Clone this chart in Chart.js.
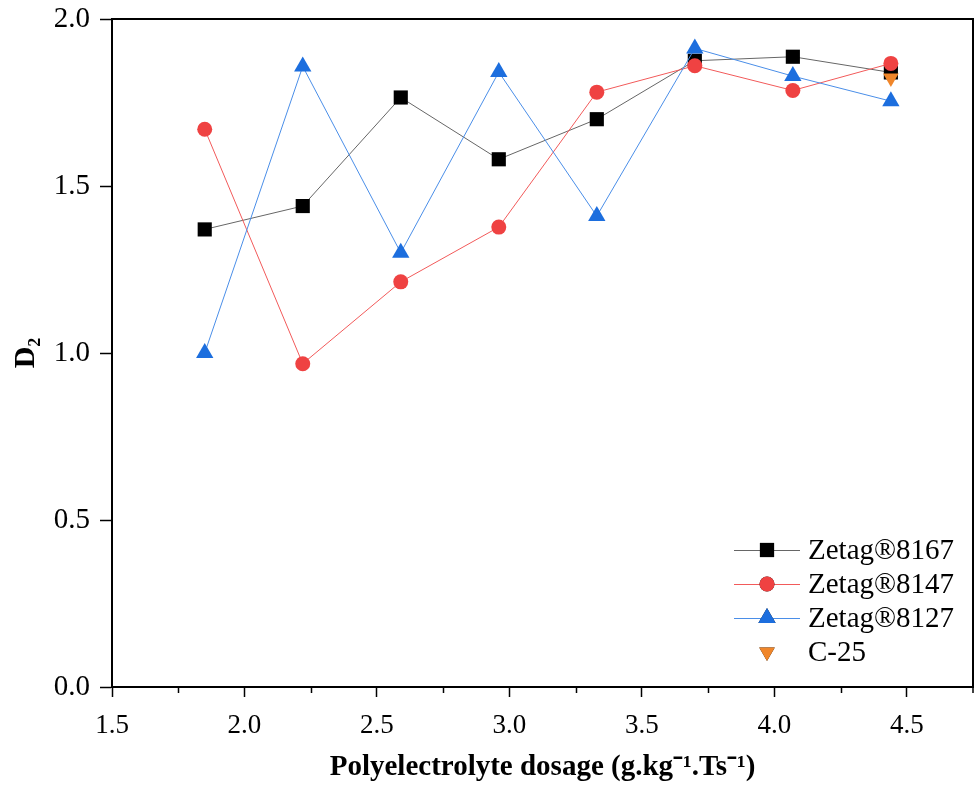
<!DOCTYPE html>
<html>
<head>
<meta charset="utf-8">
<script src="https://cdn.jsdelivr.net/npm/chart.js@4"></script>
<style>
  html, body { margin: 0; padding: 0; background: #fff; }
  #wrap { width: 975px; height: 789px; }
</style>
</head>
<body>
<div id="wrap"><canvas id="myChart" width="975" height="789"></canvas></div>
<script>
const dosage = [1.85, 2.22, 2.59, 2.96, 3.33, 3.70, 4.07, 4.44];
const z8167 = [1.37, 1.44, 1.765, 1.58, 1.70, 1.875, 1.887, 1.84];
const z8147 = [1.67, 0.968, 1.213, 1.377, 1.781, 1.86, 1.786, 1.867];
const z8127 = [1.0, 1.858, 1.30, 1.841, 1.41, 1.912, 1.829, 1.754];
const c25X = [4.44];
const c25Y = [1.823];
const xTicks = [1.5, 2.0, 2.5, 3.0, 3.5, 4.0, 4.5];
const xMinor = [1.75, 2.25, 2.75, 3.25, 3.75, 4.25, 4.75];
const yTicks = [0.0, 0.5, 1.0, 1.5, 2.0];

const serif = "'Liberation Serif', 'Times New Roman', serif";

function pts(xs, ys) {
  return xs.map((x, i) => ({ x: x, y: ys[i] }));
}

// frame, minor ticks, and legend with line samples
const extras = {
  id: "extras",
  afterDraw(chart) {
    const ctx = chart.ctx;
    const a = chart.chartArea;
    const xs = chart.scales.x;
    ctx.save();
    ctx.strokeStyle = "#000";
    ctx.lineWidth = 2;
    ctx.strokeRect(a.left, a.top, a.right - a.left, a.bottom - a.top);
    ctx.lineWidth = 1.5;
    xMinor.forEach(v => {
      const px = Math.min(Math.round(xs.getPixelForValue(v)) + 0.5, a.right);
      ctx.beginPath();
      ctx.moveTo(px, a.bottom);
      ctx.lineTo(px, a.bottom + 6);
      ctx.stroke();
    });

    // legend
    let y = 550;
    chart.data.datasets.forEach(ds => {
      const mx = 767;
      if (ds.showLine !== false) {
        ctx.strokeStyle = ds.borderColor;
        ctx.lineWidth = 1;
        ctx.beginPath();
        ctx.moveTo(734, y + 0.5);
        ctx.lineTo(800, y + 0.5);
        ctx.stroke();
      }
      Chart.helpers.drawPoint(ctx, {
        pointStyle: ds.pointStyle,
        rotation: ds.pointRotation || 0,
        radius: ds.pointRadius,
        borderWidth: 0
      }, mx, y);
      ctx.fillStyle = ds.pointBackgroundColor;
      ctx.fill();
      ctx.fillStyle = "#000";
      ctx.font = "29px " + serif;
      ctx.textBaseline = "middle";
      ctx.textAlign = "left";
      ctx.fillText(ds.label, 808, y + 1);
      y += 34;
    });
    ctx.restore();
  }
};

const data = {
  datasets: [
    {
      label: "Zetag®8167",
      data: pts(dosage, z8167),
      borderColor: "#666666",
      pointBackgroundColor: "#000",
      pointBorderWidth: 0,
      pointStyle: "rect",
      pointRadius: 10,
      borderWidth: 1,
      order: 4
    },
    {
      label: "Zetag®8147",
      data: pts(dosage, z8147),
      borderColor: "#f25a5a",
      pointBackgroundColor: "#ef4242",
      pointBorderWidth: 0,
      pointStyle: "circle",
      pointRadius: 7.5,
      borderWidth: 1,
      order: 3
    },
    {
      label: "Zetag®8127",
      data: pts(dosage, z8127),
      borderColor: "#4a8ee8",
      pointBackgroundColor: "#1c6ede",
      pointBorderWidth: 0,
      pointStyle: "triangle",
      pointRadius: 10,
      borderWidth: 1,
      order: 2
    },
    {
      label: "C-25",
      data: pts(c25X, c25Y),
      showLine: false,
      borderColor: "#f0862a",
      pointBackgroundColor: "#f0862a",
      pointBorderWidth: 0,
      pointStyle: "triangle",
      pointRotation: 180,
      pointRadius: 9,
      borderWidth: 0,
      order: 1
    }
  ]
};

const config = {
  type: "scatter",
  data: data,
  options: {
    responsive: false,
    animation: false,
    showLine: true,
    layout: { autoPadding: false, padding: { top: 19, right: 2, left: 0, bottom: 0 } },
    plugins: {
      legend: { display: false },
      tooltip: { enabled: false }
    },
    scales: {
      x: {
        type: "linear",
        min: 1.5,
        max: 4.75,
        afterBuildTicks: s => { s.ticks = xTicks.map(v => ({ value: v })); },
        afterFit: s => { s.height = 102; s.paddingRight = 0; s.paddingLeft = 0; },
        grid: { drawOnChartArea: false, tickLength: 10, tickWidth: 1.5, tickColor: "#000" },
        border: { display: true, color: "#000", width: 2 },
        ticks: {
          color: "#000",
          padding: 13,
          font: { family: serif, size: 27 },
          callback: v => Number(v).toFixed(1)
        },
        title: {
          display: true,
          text: "Polyelectrolyte dosage (g.kg⁻¹.Ts⁻¹)",
          color: "#000",
          font: { family: serif, size: 29, weight: "bold" },
          padding: { top: 2 }
        }
      },
      y: {
        min: 0,
        max: 2,
        afterBuildTicks: s => { s.ticks = yTicks.map(v => ({ value: v })); },
        afterFit: s => { s.width = 112; s.paddingTop = 0; s.paddingBottom = 0; },
        grid: { drawOnChartArea: false, tickLength: 12, tickWidth: 1.5, tickColor: "#000" },
        border: { display: true, color: "#000", width: 2 },
        ticks: {
          color: "#000",
          padding: 10,
          font: { family: serif, size: 29 },
          callback: v => Number(v).toFixed(1)
        },
        title: {
          display: true,
          text: "D₂",
          color: "#000",
          font: { family: serif, size: 30, weight: "bold" },
          padding: { top: 8, bottom: 0 }
        }
      }
    }
  },
  plugins: [extras]
};

new Chart("myChart", config);
</script>
</body>
</html>
